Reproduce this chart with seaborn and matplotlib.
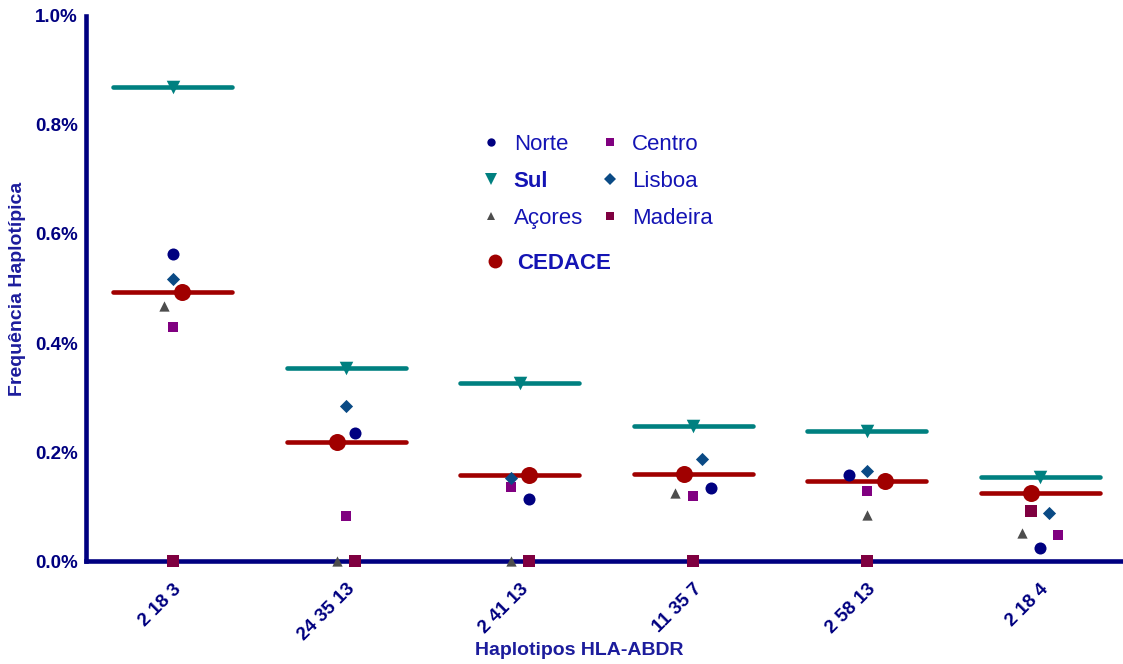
import matplotlib
matplotlib.use('Agg')
import matplotlib.pyplot as plt
from matplotlib.lines import Line2D
from matplotlib.ticker import FuncFormatter
import seaborn as sns
import pandas as pd
import numpy as np

# haplotypes on the x axis
haplotypes = ['2 18 3', '24 35 13', '2 41 13', '11 35 7', '2 58 13', '2 18 4']

# haplotype frequency (%) per region
norte = [0.563, 0.235, 0.114, 0.134, 0.158, 0.024]
centro = [0.429, 0.083, 0.136, 0.119, 0.128, 0.048]
sul = [0.870, 0.354, 0.327, 0.248, 0.239, 0.154]
lisboa = [0.517, 0.284, 0.152, 0.187, 0.165, 0.088]
acores = [0.468, 0.0, 0.0, 0.125, 0.084, 0.051]
madeira = [0.0, 0.0, 0.0, 0.0, 0.0, 0.092]
cedace = [0.494, 0.218, 0.158, 0.160, 0.147, 0.125]

# side-by-side placement of overlapping points (in steps)
nudge = {
    'Norte': [0, 1, 1, 2, -2, 0],
    'Centro': [0, 0, -1, 0, 0, 2],
    'Sul': [0, 0, 0, 0, 0, 0],
    'Lisboa': [0, 0, -1, 1, 0, 1],
    'Açores': [-1, -1, -1, -2, 0, -2],
    'Madeira': [0, 1, 1, 0, 0, -1],
    'CEDACE': [1, -1, 1, -1, 2, -1],
}
step = 0.052

series = {'Norte': norte, 'Centro': centro, 'Sul': sul, 'Lisboa': lisboa,
          'Açores': acores, 'Madeira': madeira, 'CEDACE': cedace}
colors = {'Norte': '#000080', 'Centro': '#800080', 'Sul': '#008080', 'Lisboa': '#0a4a85',
          'Açores': '#4d4d4d', 'Madeira': '#7f0040', 'CEDACE': '#a00000'}
markers = {'Norte': 'o', 'Centro': 's', 'Sul': 'v', 'Lisboa': 'D',
           'Açores': '^', 'Madeira': 's', 'CEDACE': 'o'}
sizes = {'Norte': 75, 'Centro': 55, 'Sul': 95, 'Lisboa': 45,
         'Açores': 55, 'Madeira': 65, 'CEDACE': 150}

# build long table
rows = []
for name, vals in series.items():
    for i, v in enumerate(vals):
        rows.append({'region': name, 'pos': i + nudge[name][i] * step, 'freq': v})
df = pd.DataFrame(rows)

sns.set_style('white')
plt.rcParams['font.family'] = ['Liberation Sans', 'DejaVu Sans']

navy = '#000080'
textblue = '#1414b4'

fig = plt.figure(figsize=(11.23, 6.64), dpi=100)
ax = fig.add_axes([0.0766, 0.155, 0.9234, 0.821])

# mean lines for Sul and CEDACE
idx = np.arange(len(haplotypes))
ax.hlines(sul, idx - 0.343, idx + 0.343, color=colors['Sul'], lw=3.3, capstyle='round', zorder=2)
ax.hlines(cedace, idx - 0.343, idx + 0.343, color=colors['CEDACE'], lw=3.3, capstyle='round', zorder=2)

for name in series:
    sub = df[df['region'] == name]
    sns.scatterplot(data=sub, x='pos', y='freq', color=colors[name], marker=markers[name],
                    s=sizes[name], linewidth=0, ax=ax, zorder=4, clip_on=False, legend=False)

ax.set_xlim(-0.5, 5.478)
ax.set_ylim(0, 1.0)
ax.set_xticks(idx)
ax.set_xticklabels(haplotypes, rotation=45, ha='right', rotation_mode='anchor',
                   fontsize=13.5, fontweight='bold', color=navy)
ax.set_yticks(np.arange(0, 1.01, 0.2))
ax.yaxis.set_major_formatter(FuncFormatter(lambda v, p: '%.1f%%' % v))
for lab in ax.get_yticklabels():
    lab.set_fontsize(13.5)
    lab.set_fontweight('bold')
    lab.set_color(navy)
ax.tick_params(axis='both', direction='out', length=4, width=3, color=navy, pad=2)
ax.tick_params(axis='x', pad=10)

for s in ['top', 'right']:
    ax.spines[s].set_visible(False)
for s in ['left', 'bottom']:
    ax.spines[s].set_color(navy)
    ax.spines[s].set_linewidth(3.3)

ax.set_ylabel('Frequência Haplotípica', fontsize=14, fontweight='bold', color='#1c1c9c', labelpad=6)
ax.set_xlabel('Haplotipos HLA-ABDR', fontsize=14, fontweight='bold', color='#1c1c9c')
ax.xaxis.set_label_coords(0.476, -0.148)

# legend: six regions in two columns, CEDACE below
lsize = {'Norte': 6, 'Centro': 6, 'Sul': 9, 'Lisboa': 6, 'Açores': 6, 'Madeira': 6, 'CEDACE': 10}


def handle(n):
    return Line2D([], [], linestyle='none', marker=markers[n], color=colors[n],
                  markersize=lsize[n], markeredgewidth=0)


order = ['Norte', 'Sul', 'Açores', 'Centro', 'Lisboa', 'Madeira']
leg = ax.legend([handle(n) for n in order], order, ncol=2, frameon=False, loc='upper left',
                bbox_to_anchor=(0.361, 0.82), fontsize=16, labelspacing=0.71,
                columnspacing=0.72, handletextpad=0.5, handlelength=1.0)
for t in leg.get_texts():
    t.set_color(textblue)
    if t.get_text() == 'Sul':
        t.set_fontweight('bold')
ax.add_artist(leg)

leg2 = ax.legend([handle('CEDACE')], ['CEDACE'], frameon=False, loc='upper left',
                 bbox_to_anchor=(0.364, 0.602), fontsize=16,
                 handletextpad=0.5, handlelength=1.0)
for t in leg2.get_texts():
    t.set_color(textblue)
    t.set_fontweight('bold')

fig.savefig('out.png', dpi=100)
